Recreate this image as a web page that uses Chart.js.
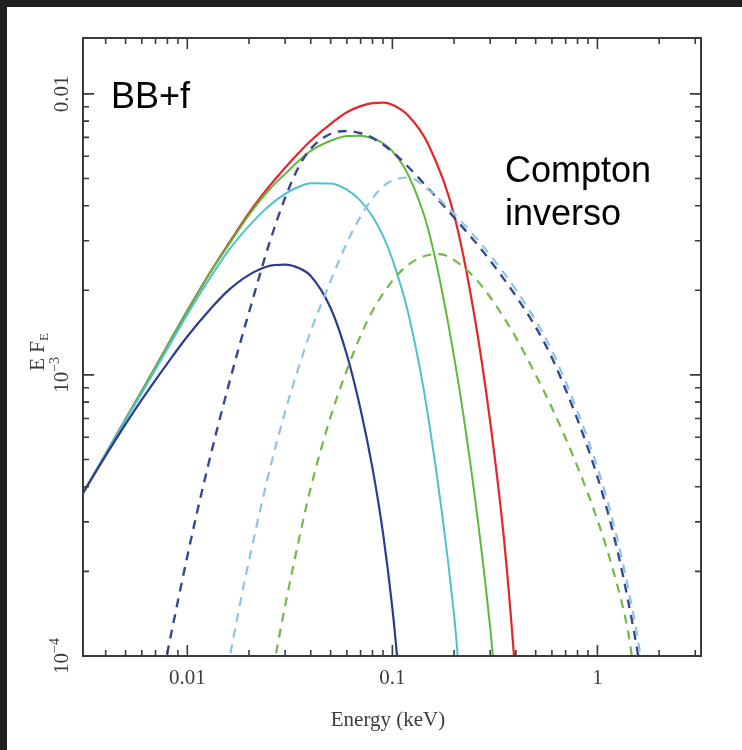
<!DOCTYPE html>
<html><head><meta charset="utf-8">
<script src="https://cdn.jsdelivr.net/npm/chart.js@4.4.1/dist/chart.umd.min.js"></script>
<style>html,body{margin:0;padding:0;background:#fff;overflow:hidden}canvas{display:block}</style>
</head><body>
<canvas id="c" width="742" height="750"></canvas>
<script>
// ---- data (Energy in keV, E*F_E) ----
const redE = [0.0031,0.004,0.005,0.006,0.008,0.01,0.013,0.016,0.02,0.025,0.03,0.035,0.04,0.05,0.06,0.07,0.08,0.09,0.1,0.12,0.15,0.2,0.25,0.3,0.35,0.39,0.40];
const redF = [3.80e-4,5.24e-4,6.96e-4,8.77e-4,1.27e-3,1.69e-3,2.33e-3,2.95e-3,3.77e-3,4.67e-3,5.46e-3,6.17e-3,6.81e-3,7.82e-3,8.60e-3,9.04e-3,9.27e-3,9.30e-3,9.14e-3,8.34e-3,6.59e-3,3.71e-3,1.66e-3,6.81e-4,2.62e-4,1.05e-4,8.1e-5];

const greenE = [0.0031,0.004,0.005,0.006,0.008,0.01,0.013,0.016,0.02,0.025,0.03,0.035,0.04,0.05,0.06,0.07,0.08,0.09,0.1,0.12,0.15,0.2,0.25,0.3,0.31,0.32];
const greenF = [3.80e-4,5.24e-4,6.96e-4,8.77e-4,1.27e-3,1.69e-3,2.33e-3,2.92e-3,3.71e-3,4.55e-3,5.19e-3,5.78e-3,6.27e-3,6.81e-3,7.08e-3,7.10e-3,6.95e-3,6.67e-3,6.25e-3,5.12e-3,3.27e-3,1.16e-3,3.89e-4,1.26e-4,9.8e-5,7.5e-5];

const cyanE = [0.0031,0.004,0.005,0.006,0.008,0.01,0.013,0.016,0.02,0.025,0.03,0.035,0.04,0.05,0.06,0.07,0.08,0.09,0.1,0.12,0.15,0.2,0.207,0.212];
const cyanF = [3.80e-4,5.24e-4,6.92e-4,8.63e-4,1.24e-3,1.64e-3,2.23e-3,2.79e-3,3.39e-3,3.99e-3,4.41e-3,4.67e-3,4.81e-3,4.80e-3,4.56e-3,4.16e-3,3.66e-3,3.13e-3,2.58e-3,1.64e-3,7.00e-4,1.40e-4,1.06e-4,8.5e-5];

const navyE = [0.0031,0.004,0.005,0.006,0.008,0.01,0.013,0.016,0.02,0.025,0.03,0.035,0.04,0.05,0.06,0.07,0.08,0.09,0.1,0.105,0.108];
const navyF = [3.80e-4,5.16e-4,6.68e-4,8.17e-4,1.10e-3,1.37e-3,1.72e-3,2.01e-3,2.27e-3,2.44e-3,2.47e-3,2.40e-3,2.25e-3,1.73e-3,1.18e-3,7.53e-4,4.66e-4,2.74e-4,1.48e-4,1.03e-4,8.0e-5];

const navyDashE = [0.0077,0.008,0.009,0.01,0.011,0.0125,0.014,0.016,0.018,0.02,0.025,0.03,0.035,0.04,0.05,0.06,0.07,0.08,0.1,0.12,0.15,0.2,0.25,0.3,0.4,0.5,0.6,0.8,1.0,1.2,1.4,1.6,1.65];
const navyDashF = [8.91e-5,1.03e-4,1.57e-4,2.26e-4,3.10e-4,4.61e-4,6.44e-4,9.35e-4,1.28e-3,1.67e-3,2.91e-3,4.27e-3,5.51e-3,6.38e-3,7.21e-3,7.38e-3,7.24e-3,6.97e-3,6.22e-3,5.48e-3,4.60e-3,3.63e-3,3.01e-3,2.55e-3,1.91e-3,1.48e-3,1.15e-3,6.93e-4,4.34e-4,2.70e-4,1.62e-4,9.5e-5,8.1e-5];

const cyanDashE = [0.0157,0.016,0.018,0.02,0.025,0.03,0.035,0.04,0.05,0.06,0.07,0.08,0.09,0.1,0.12,0.15,0.2,0.25,0.3,0.4,0.5,0.6,0.8,1.0,1.2,1.4,1.6,1.7];
const cyanDashF = [8.99e-5,9.68e-5,1.51e-4,2.19e-4,4.48e-4,7.40e-4,1.07e-3,1.43e-3,2.16e-3,2.95e-3,3.66e-3,4.25e-3,4.68e-3,4.91e-3,5.04e-3,4.55e-3,3.74e-3,3.13e-3,2.67e-3,2.01e-3,1.56e-3,1.22e-3,7.41e-4,4.69e-4,2.95e-4,1.80e-4,1.07e-4,7.9e-5];

const greenDashE = [0.0262,0.027,0.03,0.035,0.04,0.05,0.06,0.07,0.08,0.1,0.12,0.15,0.17,0.2,0.25,0.3,0.4,0.5,0.6,0.8,1.0,1.2,1.4,1.45,1.5];
const greenDashF = [8.99e-5,1.01e-4,1.51e-4,2.59e-4,3.97e-4,7.10e-4,1.04e-3,1.38e-3,1.69e-3,2.16e-3,2.47e-3,2.67e-3,2.69e-3,2.56e-3,2.23e-3,1.89e-3,1.36e-3,1.00e-3,7.64e-4,4.71e-4,3.05e-4,1.99e-4,1.26e-4,1.08e-4,8.9e-5];

const xTickValues = [0.01, 0.1, 1];
const xTickLabels = ['0.01', '0.1', '1'];
const yTickValues = [1e-4, 1e-3, 1e-2];
const yTickLabels = [['10','\u22124'], ['10','\u22123'], ['0.01','']];
const xTitle = 'Energy (keV)';
const noteBB = 'BB+f';
const noteIC = ['Compton', 'inverso'];

function pts(E, F) { return E.map((e, i) => ({x: e, y: F[i]})); }
function ds(E, F, color, dashed, w) {
  return {data: pts(E, F), borderColor: color, borderWidth: w || 2, borderDash: dashed ? [9, 7] : [],
    pointRadius: 0, fill: false, cubicInterpolationMode: 'monotone'};
}

const SERIF = '"Liberation Serif", "Times New Roman", serif';

const frame = {
  id: 'frame',
  beforeDraw(chart) {
    const c = chart.ctx;
    c.save();
    c.fillStyle = '#202020'; c.fillRect(0, 0, chart.width, chart.height);
    c.fillStyle = '#ffffff'; c.fillRect(7, 7, chart.width - 7, chart.height - 7);
    c.restore();
  },
  afterDraw(chart) {
    const c = chart.ctx, a = chart.chartArea, xs = chart.scales.x, ys = chart.scales.y;
    c.save();
    c.strokeStyle = '#3a3a3a'; c.lineWidth = 2;
    c.strokeRect(a.left, a.top, a.right - a.left, a.bottom - a.top);
    c.lineWidth = 1.6;
    for (let d = -3; d <= 0; d++) {
      for (let k = 1; k <= 9; k++) {
        const v = k * Math.pow(10, d);
        if (v < xs.min || v > xs.max) continue;
        const px = xs.getPixelForValue(v), L = k === 1 ? 11 : 6;
        c.beginPath();
        c.moveTo(px, a.bottom); c.lineTo(px, a.bottom - L);
        c.moveTo(px, a.top); c.lineTo(px, a.top + L);
        c.stroke();
      }
    }
    for (let d = -5; d <= -2; d++) {
      for (let k = 1; k <= 9; k++) {
        const v = k * Math.pow(10, d);
        if (v < ys.min * 0.999 || v > ys.max) continue;
        const py = ys.getPixelForValue(v), L = k === 1 ? 11 : 6;
        c.beginPath();
        c.moveTo(a.left, py); c.lineTo(a.left + L, py);
        c.moveTo(a.right, py); c.lineTo(a.right - L, py);
        c.stroke();
      }
    }
    // x tick labels
    c.fillStyle = '#3c3c3c';
    c.font = '21px ' + SERIF;
    c.textAlign = 'center'; c.textBaseline = 'middle';
    xTickValues.forEach((v, i) => c.fillText(xTickLabels[i], xs.getPixelForValue(v), 678));
    // x title
    c.fillText(xTitle, (a.left + a.right) / 2 - 4, 720);
    // y tick labels (rotated)
    yTickValues.forEach((v, i) => {
      const py = ys.getPixelForValue(v);
      const [base, sup] = yTickLabels[i];
      c.save();
      c.translate(61, py);
      c.rotate(-Math.PI / 2);
      c.font = '21px ' + SERIF;
      const w1 = c.measureText(base).width;
      c.font = '14px ' + SERIF;
      const w2 = sup ? c.measureText(sup).width : 0;
      const tot = w1 + w2;
      c.textAlign = 'left'; c.textBaseline = 'alphabetic';
      c.font = '21px ' + SERIF;
      c.fillText(base, -tot / 2, 7);
      if (sup) {
        c.font = '14px ' + SERIF;
        c.fillText(sup, -tot / 2 + w1, -2);
      }
      c.restore();
    });
    // y title
    c.save();
    c.translate(37, 352);
    c.rotate(-Math.PI / 2);
    c.font = '21px ' + SERIF;
    const t1 = 'E F';
    const wt = c.measureText(t1).width;
    c.font = '13px ' + SERIF;
    const ws = c.measureText('E').width;
    c.textAlign = 'left'; c.textBaseline = 'alphabetic';
    c.font = '21px ' + SERIF;
    c.fillText(t1, -(wt + ws) / 2, 7);
    c.font = '13px ' + SERIF;
    c.fillText('E', -(wt + ws) / 2 + wt, 11);
    c.restore();
    // annotations
    c.fillStyle = '#000000';
    c.font = '36px "Liberation Sans", Arial, sans-serif';
    c.textAlign = 'left'; c.textBaseline = 'alphabetic';
    c.fillText(noteBB, 111, 108);
    c.fillText(noteIC[0], 505, 182);
    c.fillText(noteIC[1], 505, 225);
    c.restore();
  }
};

new Chart(document.getElementById('c'), {
  type: 'line',
  data: {
    datasets: [
      ds(greenDashE, greenDashF, '#74b847', true, 2.2),
      ds(cyanDashE, cyanDashF, '#8cc4e2', true, 2.2),
      ds(navyDashE, navyDashF, '#36498f', true, 2.4),
      ds(navyE, navyF, '#2c3b8f', false, 2.2),
      ds(cyanE, cyanF, '#4cc2cf', false, 2),
      ds(greenE, greenF, '#5fb83a', false, 2),
      ds(redE, redF, '#e2262c', false, 2.2)
    ]
  },
  options: {
    responsive: false,
    devicePixelRatio: 1,
    animation: false,
    events: [],
    layout: {padding: {left: 0, top: 38, right: 41, bottom: 0}},
    plugins: {legend: {display: false}, tooltip: {enabled: false}},
    scales: {
      x: {type: 'logarithmic', min: 0.0031, max: 3.2,
          grid: {display: false}, border: {display: false}, ticks: {display: false},
          afterFit(s) { s.height = 94; }},
      y: {type: 'logarithmic', min: 1e-4, max: 0.0158,
          grid: {display: false}, border: {display: false}, ticks: {display: false},
          afterFit(s) { s.width = 83; }}
    }
  },
  plugins: [frame]
});
</script>
</body></html>
